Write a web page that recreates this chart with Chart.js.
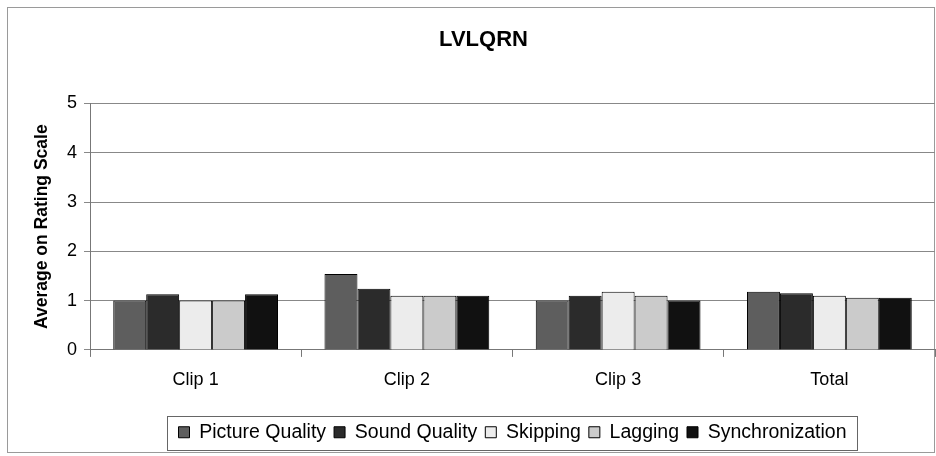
<!DOCTYPE html>
<html>
<head>
<meta charset="utf-8">
<script src="https://cdn.jsdelivr.net/npm/chart.js@4/dist/chart.umd.min.js"></script>
<style>
  html, body { margin: 0; padding: 0; background: #fff; }
  #wrap { width: 936px; height: 456px; position: relative; }
</style>
</head>
<body>
<div id="wrap"><canvas id="chart" width="936" height="456"></canvas></div>
<script>
const categories = ["Clip 1", "Clip 2", "Clip 3", "Total"];
const seriesNames = ["Picture Quality", "Sound Quality", "Skipping", "Lagging", "Synchronization"];
const pictureQuality = [1.0, 1.54, 1.0, 1.18];
const soundQuality = [1.13, 1.24, 1.1, 1.15];
const skipping = [1.0, 1.1, 1.18, 1.1];
const lagging = [1.0, 1.1, 1.1, 1.06];
const synchronization = [1.13, 1.1, 1.0, 1.06];
const yTicks = [0, 1, 2, 3, 4, 5];

const fills = ["#5e5e5e", "#2b2b2b", "#ececec", "#cbcbcb", "#111111"];
const values = [pictureQuality, soundQuality, skipping, lagging, synchronization];

const frame = {
  id: "frame",
  beforeDraw(chart) {
    const ctx = chart.ctx;
    ctx.save();
    ctx.fillStyle = "#fff";
    ctx.fillRect(0, 0, chart.width, chart.height);
    ctx.strokeStyle = "#9a9a9a";
    ctx.lineWidth = 1;
    ctx.strokeRect(7.5, 7.5, chart.width - 9, chart.height - 11);
    ctx.restore();
  },
  afterDraw(chart) {
    const boxes = chart.legend.legendHitBoxes;
    if (!boxes || !boxes.length) return;
    let l = Infinity, r = -Infinity, t = Infinity, b = -Infinity;
    boxes.forEach((h) => {
      l = Math.min(l, h.left); r = Math.max(r, h.left + h.width);
      t = Math.min(t, h.top); b = Math.max(b, h.top + h.height);
    });
    const ctx = chart.ctx;
    ctx.save();
    ctx.strokeStyle = "#666";
    ctx.lineWidth = 1;
    ctx.strokeRect(Math.round(l - 12) + 0.5, Math.round(t - 7) + 0.5, Math.round(r - l + 22), Math.round(b - t + 14));
    ctx.restore();
  }
};

new Chart(document.getElementById("chart"), {
  type: "bar",
  data: {
    labels: categories,
    datasets: seriesNames.map((name, i) => ({
      label: name,
      data: values[i],
      backgroundColor: fills[i],
      borderColor: "#000",
      borderWidth: 1,
      barPercentage: 1.0,
      categoryPercentage: 0.78
    }))
  },
  options: {
    responsive: false,
    animation: false,
    layout: { padding: { left: 32, right: 1, top: 10, bottom: 4 } },
    plugins: {
      title: {
        display: true,
        text: "LVLQRN",
        color: "#000",
        font: { family: "Liberation Sans", size: 22, weight: "bold" },
        padding: { top: 17, bottom: 50 }
      },
      legend: {
        position: "bottom",
        fullSize: false,
        labels: {
          color: "#000",
          font: { family: "Liberation Sans", size: 19.5 },
          boxWidth: 11,
          boxHeight: 11,
          padding: 8
        }
      },
      tooltip: { enabled: false }
    },
    scales: {
      x: {
        afterFit(axis) { axis.height += 12; },
        grid: { drawOnChartArea: false, color: "#777", tickLength: 7, offset: true },
        border: { color: "#777" },
        ticks: { color: "#000", font: { family: "Liberation Sans", size: 18 }, padding: 12 }
      },
      y: {
        min: 0,
        max: 5,
        afterBuildTicks(axis) { axis.ticks = yTicks.map((v) => ({ value: v })); },
        grid: { color: "#888", tickLength: 6 },
        border: { color: "#777" },
        ticks: { color: "#000", font: { family: "Liberation Sans", size: 18 }, padding: 7 },
        title: {
          display: true,
          text: "Average on Rating Scale",
          color: "#000",
          font: { family: "Liberation Sans", size: 17.5, weight: "bold" },
          padding: { top: 0, bottom: 7 }
        }
      }
    }
  },
  plugins: [frame]
});
</script>
</body>
</html>
